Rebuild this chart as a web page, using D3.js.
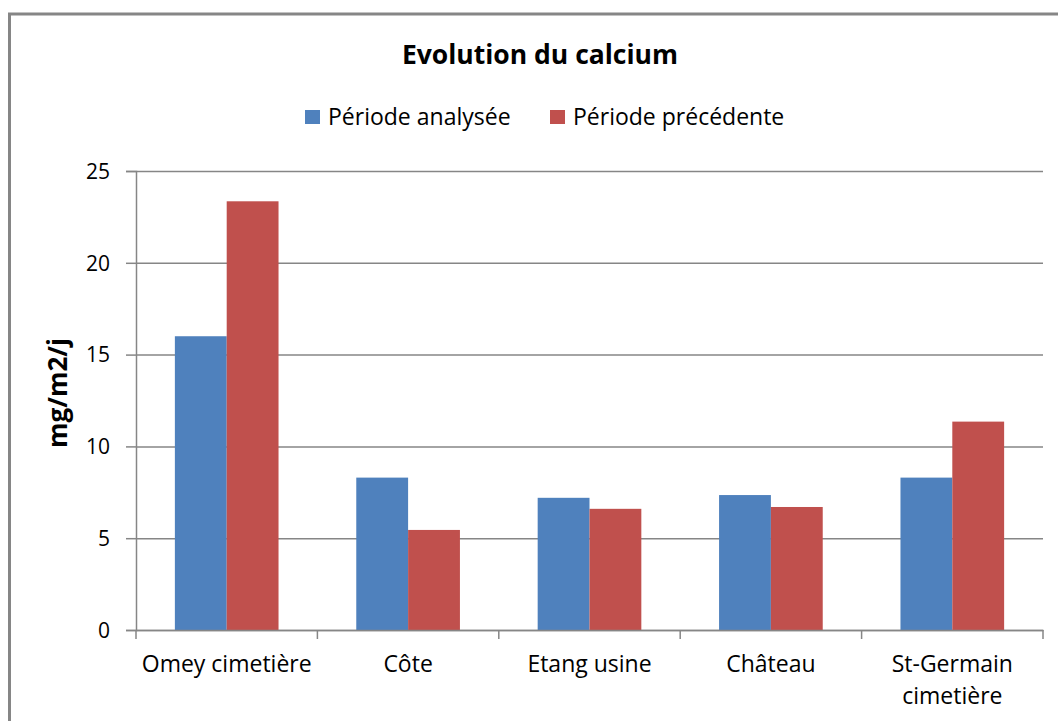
<!DOCTYPE html>
<html>
<head>
<meta charset="utf-8">
<script src="https://cdn.jsdelivr.net/npm/d3@7"></script>
<style>
  body { margin: 0; background: #fff; }
  svg text { font-family: "Open Sans", "DejaVu Sans", sans-serif; fill: #000; }
</style>
</head>
<body>
<script>
const categories = ["Omey cimetière", "Côte", "Etang usine", "Château", "St-Germain cimetière"]
const seriesNames = ["Période analysée", "Période précédente"]
const analysee = [16.0, 8.3, 7.2, 7.35, 8.3]
const precedente = [23.35, 5.45, 6.6, 6.7, 11.35]
const yTicks = [0, 5, 10, 15, 20, 25]
const colors = ["#4F81BD", "#C0504D"]

const w = 1058
const h = 721

const plotL = 136, plotR = 1043, plotT = 171, plotB = 630

const svg = d3.select("body")
  .append("svg")
  .attr("width", w)
  .attr("height", h)

// chart border
svg.append("rect")
  .attr("x", 9.5)
  .attr("y", 14)
  .attr("width", w + 20)
  .attr("height", h + 20)
  .attr("fill", "none")
  .attr("stroke", "#868686")
  .attr("stroke-width", 3)

const y = d3.scaleLinear()
  .domain([0, 25])
  .range([plotB, plotT])

const x = d3.scaleBand()
  .domain(categories)
  .range([plotL, plotR])
  .paddingInner(0)
  .paddingOuter(0)

const xs = d3.scaleBand()
  .domain(seriesNames)
  .range([0, x.bandwidth()])
  .paddingInner(0)
  .paddingOuter(0.75)

// gridlines
const grid = svg.append("g")
  .attr("transform", "translate(" + plotL + ",0)")
  .call(d3.axisLeft(y).tickValues(yTicks).tickSize(-(plotR - plotL)).tickFormat(""))
grid.select(".domain").remove()
grid.selectAll("line").attr("stroke", "#868686").attr("stroke-width", 1.5)

// bars
const data = categories.map((c, i) => ({cat: c, vals: [analysee[i], precedente[i]]}))
svg.selectAll(".grp")
  .data(data)
  .enter()
  .append("g")
  .attr("class", "grp")
  .attr("transform", d => "translate(" + x(d.cat) + ",0)")
  .selectAll("rect")
  .data(d => d.vals.map((v, j) => ({s: seriesNames[j], v: v, j: j})))
  .enter()
  .append("rect")
  .attr("x", d => xs(d.s))
  .attr("y", d => y(d.v))
  .attr("width", xs.bandwidth())
  .attr("height", d => y(0) - y(d.v))
  .attr("fill", d => colors[d.j])

// y axis
const yAxis = svg.append("g")
  .attr("transform", "translate(" + plotL + ",0)")
  .call(d3.axisLeft(y).tickValues(yTicks).tickSize(10).tickPadding(16))
yAxis.select(".domain").attr("stroke", "#868686").attr("stroke-width", 1.5)
yAxis.selectAll("line").attr("stroke", "#868686").attr("stroke-width", 1.5)
yAxis.selectAll("text").attr("font-size", 21).attr("dy", "0.35em")

// x axis
const xAxis = svg.append("g")
  .attr("transform", "translate(0," + plotB + ")")
  .call(d3.axisBottom(x).tickSize(0).tickPadding(26))
xAxis.select(".domain").attr("stroke", "#868686").attr("stroke-width", 1.5)
xAxis.selectAll("text").attr("font-size", 23).text(null)
  .each(function(d) {
    const t = d3.select(this)
    const words = d == "St-Germain cimetière" ? ["St-Germain", "cimetière"] : [d]
    words.forEach((wd, k) => {
      t.append("tspan").attr("x", 0).attr("dy", k == 0 ? "0.71em" : "1.39em").text(wd)
    })
  })

const bounds = categories.map(c => x(c)).concat([plotR])
svg.append("g").selectAll("line")
  .data(bounds)
  .enter()
  .append("line")
  .attr("x1", d => d).attr("x2", d => d)
  .attr("y1", plotB).attr("y2", plotB + 9)
  .attr("stroke", "#868686")
  .attr("stroke-width", 1.5)

// y label
svg.append("text")
  .attr("transform", "translate(67,393) rotate(-90)")
  .attr("text-anchor", "middle")
  .attr("font-size", 26)
  .attr("font-weight", "bold")
  .text("mg/m2/j")

// title
svg.append("text")
  .attr("x", 540)
  .attr("y", 64)
  .attr("text-anchor", "middle")
  .attr("font-size", 26.5)
  .attr("font-weight", "bold")
  .text("Evolution du calcium")

// legend
const legX = [305, 550]
const leg = svg.selectAll(".leg")
  .data(seriesNames)
  .enter()
  .append("g")
  .attr("class", "leg")
  .attr("transform", (d, i) => "translate(" + legX[i] + ",110)")
leg.append("rect")
  .attr("width", 15)
  .attr("height", 14)
  .attr("fill", (d, i) => colors[i])
leg.append("text")
  .attr("x", 23)
  .attr("y", 15)
  .attr("font-size", 23)
  .text(d => d)
</script>
</body>
</html>
